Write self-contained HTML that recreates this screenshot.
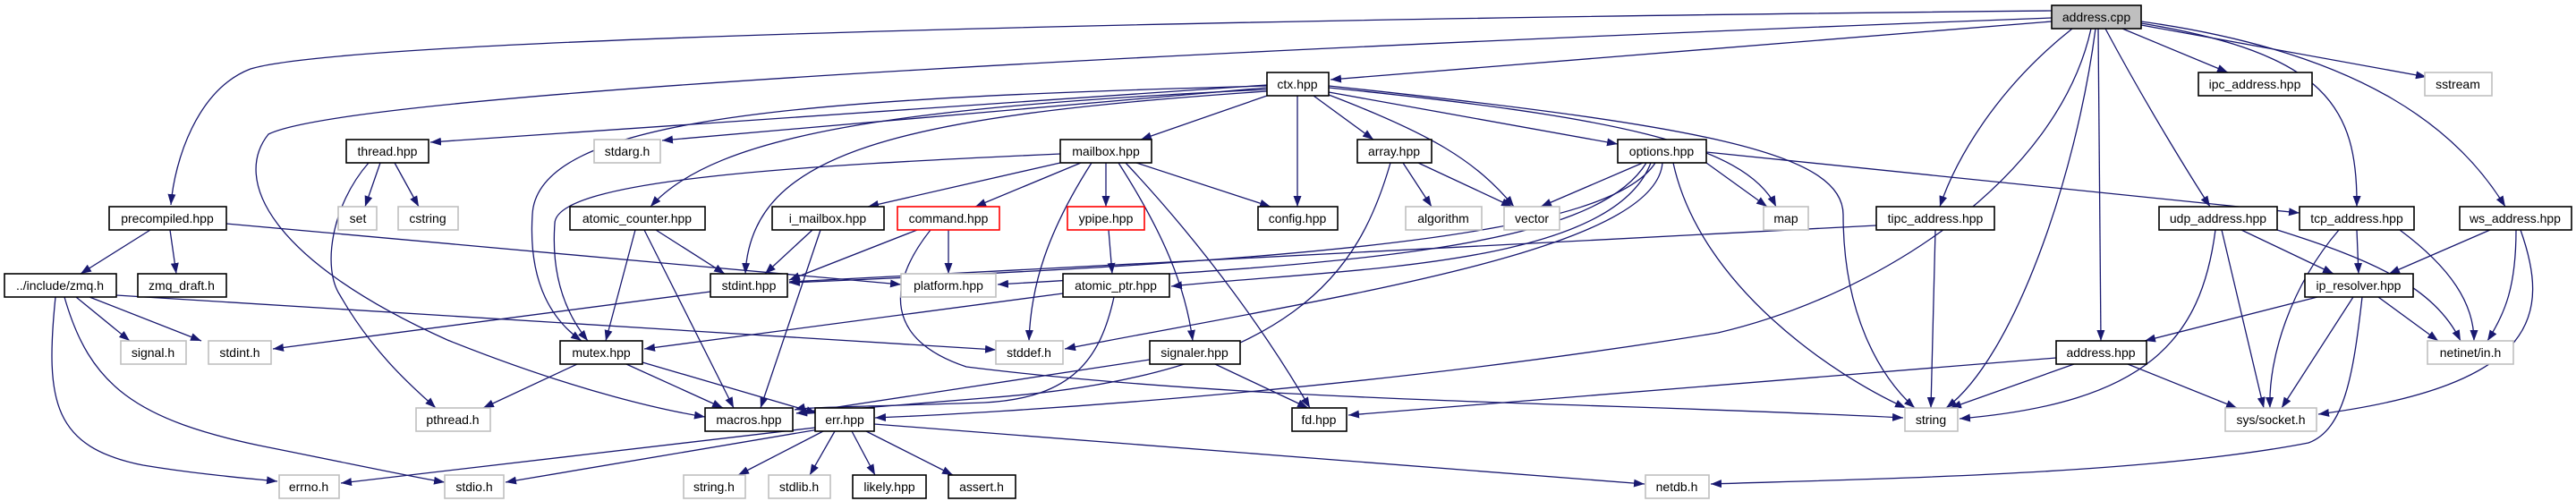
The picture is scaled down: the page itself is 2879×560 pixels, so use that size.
<!DOCTYPE html>
<html><head><meta charset="utf-8"><style>
html,body{margin:0;padding:0;background:#fff;}
svg{display:block;}
text{font-family:"Liberation Sans",sans-serif;font-size:14px;fill:#000;text-anchor:middle;}
.e{fill:none;stroke:#191970;stroke-width:1.3;marker-end:url(#a);}
.n{fill:#fff;stroke:#000;stroke-width:1.6;}
.g{fill:#fff;stroke:#bfbfbf;stroke-width:1.6;}
.r{fill:#fff;stroke:#ff0000;stroke-width:1.6;}
</style></head><body>
<svg width="2879" height="560" viewBox="0 0 2879 560" xmlns="http://www.w3.org/2000/svg">
<defs><marker id="a" markerUnits="userSpaceOnUse" markerWidth="13" markerHeight="10" refX="12" refY="4.5" orient="auto"><path d="M0,0 L12,4.5 L0,9 z" fill="#191970"/></marker></defs>
<g>
<!-- address.cpp -->
<path class="e" d="M2293,12 C1500,20 400,40 280,77 C220,100 195,180 191,229"/>
<path class="e" d="M2293,20 C1500,50 400,100 300,150 C260,200 300,290 500,380 C650,440 750,460 788,466"/>
<path class="e" d="M2293,24 L1487,89"/>
<path class="e" d="M2337,32 C2300,200 2100,330 1920,372 C1500,440 1100,462 978,467"/>
<path class="e" d="M2342,32 C2320,200 2250,400 2175,456"/>
<path class="e" d="M2316,32 C2230,100 2185,180 2168,231"/>
<path class="e" d="M2345,32 L2348,381"/>
<path class="e" d="M2353,32 C2400,120 2450,200 2470,231"/>
<path class="e" d="M2372,32 L2490,81"/>
<path class="e" d="M2393,26 C2600,60 2635,120 2634,231"/>
<path class="e" d="M2393,24 C2650,60 2750,150 2800,231"/>
<path class="e" d="M2393,28 L2712,86"/>
<!-- ctx -->
<path class="e" d="M1416,95 L481,159"/>
<path class="e" d="M1416,98 L740,157"/>
<path class="e" d="M1416,96 C900,110 600,130 595,240 C590,320 620,360 650,381"/>
<path class="e" d="M1416,100 C1000,120 800,150 727,231"/>
<path class="e" d="M1416,102 C1000,130 840,170 833,306"/>
<path class="e" d="M1416,107 L1275,156"/>
<path class="e" d="M1450,107 L1450,231"/>
<path class="e" d="M1468,107 L1535,156"/>
<path class="e" d="M1485,103 L1808,161"/>
<path class="e" d="M1485,106 C1600,150 1650,180 1692,231"/>
<path class="e" d="M1485,98 C1800,130 1950,160 1985,231"/>
<path class="e" d="M1485,96 C1900,140 2060,170 2060,240 C2060,350 2100,420 2140,456"/>
<!-- mailbox -->
<path class="e" d="M1185,182 L970,231"/>
<path class="e" d="M1208,182 L1090,231"/>
<path class="e" d="M1236,182 L1236,231"/>
<path class="e" d="M1270,182 L1420,231"/>
<path class="e" d="M1220,182 C1170,260 1152,320 1150,381"/>
<path class="e" d="M1250,182 C1300,260 1325,320 1333,381"/>
<path class="e" d="M1258,182 C1350,280 1420,380 1464,456"/>
<path class="e" d="M1185,172 C900,185 620,200 620,250 C615,320 640,360 657,381"/>
<!-- array -->
<path class="e" d="M1568,182 L1600,231"/>
<path class="e" d="M1585,182 L1690,231"/>
<path class="e" d="M1554,182 C1520,300 1450,420 1100,445 L890,462"/>
<!-- options -->
<path class="e" d="M1836,182 L1722,231"/>
<path class="e" d="M1907,182 L1975,231"/>
<path class="e" d="M1907,170 L2570,238"/>
<path class="e" d="M1850,182 C1800,260 1500,290 882,316"/>
<path class="e" d="M1840,182 C1780,280 1500,295 1115,318"/>
<path class="e" d="M1845,182 C1800,300 1500,300 1309,320"/>
<path class="e" d="M1870,182 C1900,320 2050,420 2130,456"/>
<path class="e" d="M1858,182 C1850,280 1500,330 1190,390"/>
<!-- thread -->
<path class="e" d="M425,182 L408,231"/>
<path class="e" d="M441,182 L468,231"/>
<path class="e" d="M412,182 C370,230 360,300 380,330 C420,400 470,440 487,456"/>
<!-- precompiled -->
<path class="e" d="M168,257 L90,306"/>
<path class="e" d="M190,257 L197,306"/>
<path class="e" d="M253,250 L1007,318"/>
<!-- zmq.h -->
<path class="e" d="M85,332 L145,381"/>
<path class="e" d="M100,332 L225,381"/>
<path class="e" d="M130,330 L1113,391"/>
<path class="e" d="M62,332 C50,450 60,500 160,520 C220,530 280,535 310,538"/>
<path class="e" d="M72,332 C100,430 150,470 300,500 C400,520 470,535 497,539"/>
<!-- atomic_counter / i_mailbox / stdint -->
<path class="e" d="M733,257 L810,306"/>
<path class="e" d="M710,257 L677,381"/>
<path class="e" d="M720,257 L820,456"/>
<path class="e" d="M908,257 L855,306"/>
<path class="e" d="M917,257 L850,456"/>
<path class="e" d="M794,326 L305,390"/>
<!-- command / ypipe / atomic_ptr -->
<path class="e" d="M1025,257 L882,313"/>
<path class="e" d="M1060,257 L1060,306"/>
<path class="e" d="M1040,257 C990,320 990,380 1080,410 C1400,450 1800,450 2127,467"/>
<path class="e" d="M1239,257 L1243,306"/>
<path class="e" d="M1188,328 L720,390"/>
<path class="e" d="M1245,332 C1230,400 1200,445 1100,450 C950,455 900,455 888,458"/>
<!-- mutex / signaler -->
<path class="e" d="M645,407 L540,456"/>
<path class="e" d="M700,407 L808,456"/>
<path class="e" d="M718,405 L913,462"/>
<path class="e" d="M1358,407 L1462,456"/>
<path class="e" d="M1285,402 L890,462"/>
<!-- err -->
<path class="e" d="M911,478 L381,540"/>
<path class="e" d="M915,480 L565,539"/>
<path class="e" d="M920,482 L825,531"/>
<path class="e" d="M933,482 L905,531"/>
<path class="e" d="M952,482 L978,531"/>
<path class="e" d="M968,482 L1065,531"/>
<path class="e" d="M977,474 L1838,541"/>
<!-- tipc / udp / tcp / ws -->
<path class="e" d="M2097,252 L882,315"/>
<path class="e" d="M2163,257 L2158,456"/>
<path class="e" d="M2505,257 L2608,306"/>
<path class="e" d="M2545,257 C2650,290 2720,320 2750,381"/>
<path class="e" d="M2483,257 L2530,456"/>
<path class="e" d="M2476,257 C2460,380 2400,450 2190,468"/>
<path class="e" d="M2634,257 L2636,306"/>
<path class="e" d="M2682,257 C2740,300 2765,340 2765,381"/>
<path class="e" d="M2614,257 C2560,320 2535,400 2537,456"/>
<path class="e" d="M2783,257 L2670,306"/>
<path class="e" d="M2812,257 C2812,320 2800,350 2780,381"/>
<path class="e" d="M2817,257 C2850,350 2840,430 2591,463"/>
<!-- ip_resolver / address.hpp -->
<path class="e" d="M2590,332 L2397,381"/>
<path class="e" d="M2658,332 L2725,381"/>
<path class="e" d="M2630,332 L2550,456"/>
<path class="e" d="M2640,332 C2630,420 2620,480 2580,495 C2400,530 2100,535 1912,541"/>
<path class="e" d="M2318,407 L2180,456"/>
<path class="e" d="M2378,407 L2500,456"/>
<path class="e" d="M2298,400 L1507,464"/>
</g>
<g>
<rect x="2293" y="6" width="100" height="26" fill="#bfbfbf" stroke="#000" stroke-width="1.6"/><text x="2343" y="24">address.cpp</text>
<rect class="n" x="1416" y="81" width="69" height="26"/><text x="1450" y="99">ctx.hpp</text>
<rect class="n" x="2457" y="81" width="127" height="26"/><text x="2520" y="99">ipc_address.hpp</text>
<rect class="g" x="2710" y="81" width="75" height="26"/><text x="2747" y="99">sstream</text>
<rect class="n" x="387" y="156" width="92" height="26"/><text x="433" y="174">thread.hpp</text>
<rect class="g" x="664" y="156" width="74" height="26"/><text x="701" y="174">stdarg.h</text>
<rect class="n" x="1185" y="156" width="102" height="26"/><text x="1236" y="174">mailbox.hpp</text>
<rect class="n" x="1517" y="156" width="83" height="26"/><text x="1558" y="174">array.hpp</text>
<rect class="n" x="1808" y="156" width="99" height="26"/><text x="1857" y="174">options.hpp</text>
<rect class="n" x="122" y="231" width="131" height="26"/><text x="187" y="249">precompiled.hpp</text>
<rect class="g" x="378" y="231" width="43" height="26"/><text x="400" y="249">set</text>
<rect class="g" x="445" y="231" width="67" height="26"/><text x="478" y="249">cstring</text>
<rect class="n" x="637" y="231" width="151" height="26"/><text x="712" y="249">atomic_counter.hpp</text>
<rect class="n" x="863" y="231" width="125" height="26"/><text x="925" y="249">i_mailbox.hpp</text>
<rect class="r" x="1003" y="231" width="114" height="26"/><text x="1060" y="249">command.hpp</text>
<rect class="r" x="1193" y="231" width="86" height="26"/><text x="1236" y="249">ypipe.hpp</text>
<rect class="n" x="1406" y="231" width="89" height="26"/><text x="1450" y="249">config.hpp</text>
<rect class="g" x="1571" y="231" width="85" height="26"/><text x="1613" y="249">algorithm</text>
<rect class="g" x="1681" y="231" width="62" height="26"/><text x="1712" y="249">vector</text>
<rect class="g" x="1971" y="231" width="50" height="26"/><text x="1996" y="249">map</text>
<rect class="n" x="2097" y="231" width="132" height="26"/><text x="2163" y="249">tipc_address.hpp</text>
<rect class="n" x="2413" y="231" width="132" height="26"/><text x="2479" y="249">udp_address.hpp</text>
<rect class="n" x="2570" y="231" width="128" height="26"/><text x="2634" y="249">tcp_address.hpp</text>
<rect class="n" x="2749" y="231" width="125" height="26"/><text x="2811" y="249">ws_address.hpp</text>
<rect class="n" x="5" y="306" width="125" height="26"/><text x="67" y="324">../include/zmq.h</text>
<rect class="n" x="154" y="306" width="99" height="26"/><text x="203" y="324">zmq_draft.h</text>
<rect class="n" x="794" y="306" width="86" height="26"/><text x="837" y="324">stdint.hpp</text>
<rect class="g" x="1007" y="306" width="106" height="26"/><text x="1060" y="324">platform.hpp</text>
<rect class="n" x="1188" y="306" width="119" height="26"/><text x="1247" y="324">atomic_ptr.hpp</text>
<rect class="n" x="2576" y="306" width="121" height="26"/><text x="2636" y="324">ip_resolver.hpp</text>
<rect class="g" x="135" y="381" width="73" height="26"/><text x="171" y="399">signal.h</text>
<rect class="g" x="233" y="381" width="70" height="26"/><text x="268" y="399">stdint.h</text>
<rect class="n" x="626" y="381" width="92" height="26"/><text x="672" y="399">mutex.hpp</text>
<rect class="g" x="1113" y="381" width="75" height="26"/><text x="1150" y="399">stddef.h</text>
<rect class="n" x="1285" y="381" width="101" height="26"/><text x="1335" y="399">signaler.hpp</text>
<rect class="n" x="2298" y="381" width="101" height="26"/><text x="2348" y="399">address.hpp</text>
<rect class="g" x="2713" y="381" width="96" height="26"/><text x="2761" y="399">netinet/in.h</text>
<rect class="g" x="465" y="456" width="83" height="26"/><text x="506" y="474">pthread.h</text>
<rect class="n" x="788" y="456" width="98" height="26"/><text x="837" y="474">macros.hpp</text>
<rect class="n" x="911" y="456" width="66" height="26"/><text x="944" y="474">err.hpp</text>
<rect class="n" x="1444" y="456" width="61" height="26"/><text x="1474" y="474">fd.hpp</text>
<rect class="g" x="2129" y="456" width="59" height="26"/><text x="2158" y="474">string</text>
<rect class="g" x="2487" y="456" width="102" height="26"/><text x="2538" y="474">sys/socket.h</text>
<rect class="g" x="312" y="531" width="67" height="26"/><text x="345" y="549">errno.h</text>
<rect class="g" x="497" y="531" width="66" height="26"/><text x="530" y="549">stdio.h</text>
<rect class="g" x="764" y="531" width="69" height="26"/><text x="798" y="549">string.h</text>
<rect class="g" x="859" y="531" width="69" height="26"/><text x="893" y="549">stdlib.h</text>
<rect class="n" x="953" y="531" width="82" height="26"/><text x="994" y="549">likely.hpp</text>
<rect class="n" x="1060" y="531" width="75" height="26"/><text x="1097" y="549">assert.h</text>
<rect class="g" x="1839" y="531" width="71" height="26"/><text x="1874" y="549">netdb.h</text>
</g>
</svg>
</body></html>
